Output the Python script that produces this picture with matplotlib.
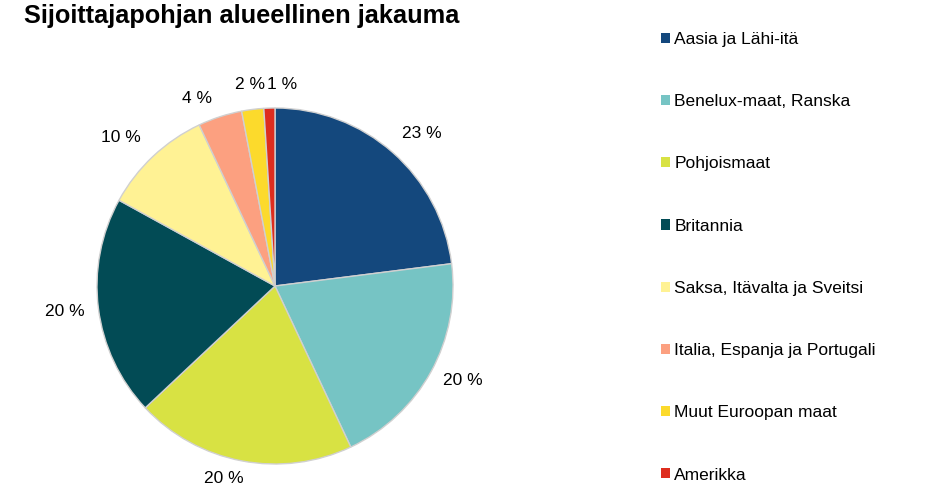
import matplotlib
matplotlib.use('Agg')
import matplotlib.pyplot as plt
from matplotlib.patches import Patch
import numpy as np

plt.rcParams['font.family'] = ['Liberation Sans', 'DejaVu Sans']

regions = ['Aasia ja Lähi-itä', 'Benelux-maat, Ranska', 'Pohjoismaat', 'Britannia',
           'Saksa, Itävalta ja Sveitsi', 'Italia, Espanja ja Portugali',
           'Muut Euroopan maat', 'Amerikka']
shares = [23, 20, 20, 20, 10, 4, 2, 1]
colors = ['#14487D', '#76C4C4', '#D8E243', '#024B55',
          '#FFF294', '#FCA080', '#FCDA2C', '#DE2D1E']

# label layout tweaks (angle nudge in degrees, radius in pie radii)
label_nudge = [-2.6, 2.0, -4.1, -0.4, 2.8, 4.5, -0.2, -3.8]
label_radius = [1.19, 1.18, 1.12, 1.19, 1.20, 1.14, 1.14, 1.13]

fig = plt.figure(figsize=(9.5, 5), dpi=100)
ax = fig.add_axes([97 / 950, 36 / 500, 356 / 950, 356 / 500])

wedges, texts, autotexts = ax.pie(
    shares, colors=colors, startangle=90, counterclock=False,
    autopct=lambda p: f'{p:.0f} %', pctdistance=1.18,
    wedgeprops=dict(edgecolor='#D0D0D0', linewidth=1),
    textprops=dict(fontsize=12.5, color='#000000'))
for w, t, dn, r in zip(wedges, autotexts, label_nudge, label_radius):
    mid = np.deg2rad((w.theta1 + w.theta2) / 2 + dn)
    t.set_position((r * np.cos(mid), r * np.sin(mid)))
    t.set_ha('center')
    t.set_va('center')
ax.set_xlim(-1, 1)
ax.set_ylim(-1, 1)
ax.set_aspect('equal')

fig.text(24 / 950, 1 - 4 / 500, 'Sijoittajapohjan alueellinen jakauma',
         fontsize=18.3, fontweight='bold', ha='left', va='top')

handles = [Patch(facecolor=c, edgecolor='none') for c in colors]
fig.legend(handles, regions, loc='upper left',
           bbox_to_anchor=(661 / 950, 1 - 32 / 500),
           frameon=False, fontsize=12.5, borderpad=0, borderaxespad=0,
           handlelength=0.52, handleheight=0.52, handletextpad=0.25,
           labelspacing=2.72)

fig.savefig('out.png', dpi=100)
